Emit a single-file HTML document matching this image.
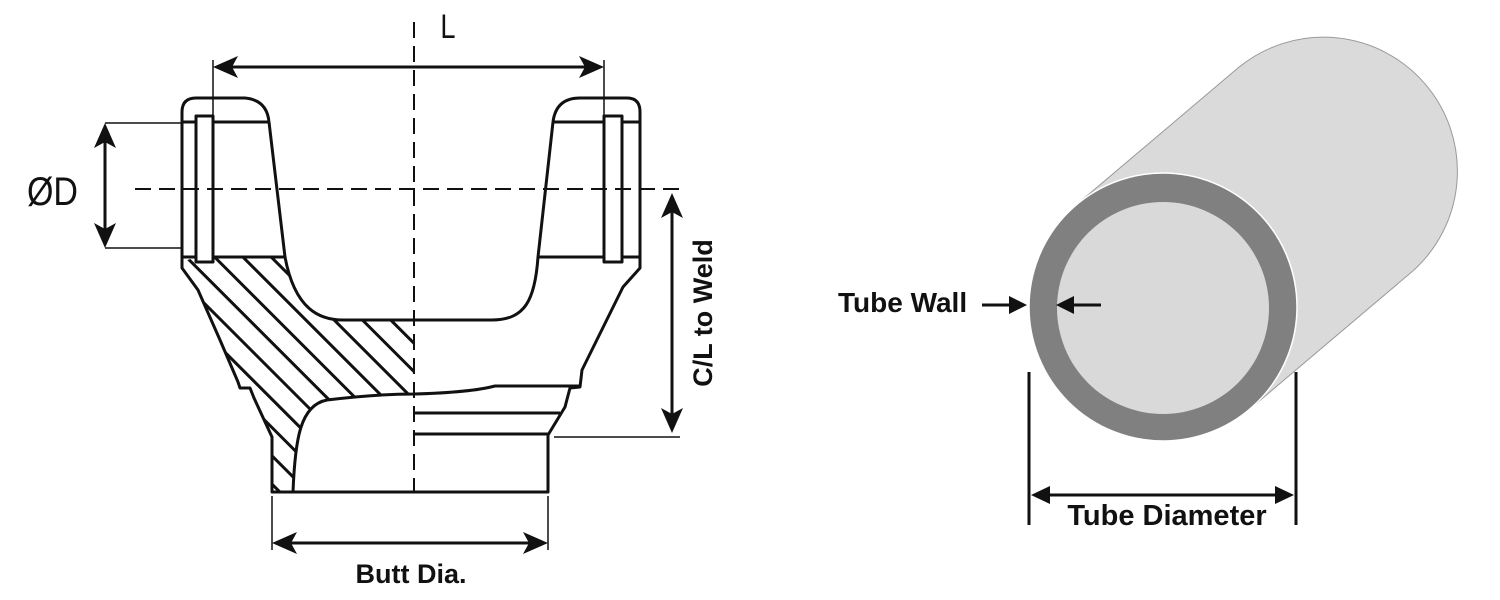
<!DOCTYPE html>
<html><head><meta charset="utf-8"><style>
html,body{margin:0;padding:0;background:#fff;}
svg{display:block;}
</style></head><body>
<svg width="1500" height="600" viewBox="0 0 1500 600" xmlns="http://www.w3.org/2000/svg">
<defs>
<pattern id="h" patternUnits="userSpaceOnUse" width="20" height="20" patternTransform="rotate(-45)">
<line x1="10" y1="-2" x2="10" y2="22" stroke="#111" stroke-width="3"/>
</pattern>
<clipPath id="hc"><path d="M182,262 L198,290 L220,340 L238,382 L240,388 L250,388 L254,398 L272,437 L272,492 L293,492 C295,440 300,405 327,400 C360,396 390,394 414,394 L414,320 L343,320 C320,320 295,310 285,257 L196,257 Z"/></clipPath>
</defs>
<rect x="170" y="250" width="250" height="250" fill="url(#h)" clip-path="url(#hc)"/>
<g fill="none" stroke="#111" stroke-width="3" stroke-linejoin="round">
<path d="M182,268 L182,112 Q182,98 196,98 L245,98 Q267,100 269,122 L285,257 C295,310 320,320 343,320 L492,320 C525,320 535,300 538,257 L553,122 Q556,98 580,98 L627,98 Q640,98 640,112 L640,268 L623,287 L582,370 L580,387 L570,388 L565,407 L548,435 L548,492 L272,492 L272,437 L254,398 L250,388 L240,388 L238,382 L220,340 L198,290 Z"/>
<path d="M293,492 C295,440 300,405 327,400 C360,396 390,394 414,394 C450,393 480,390 495,386 L580,386"/>
<line x1="414" y1="413" x2="560" y2="413"/>
<line x1="414" y1="434" x2="548" y2="434"/>
<rect x="196" y="116" width="17" height="146"/>
<rect x="604" y="116" width="18" height="146"/>
<path d="M182,122 L196,122 M213,122 L269,122 M182,257 L196,257 M213,257 L285,257"/>
<path d="M553,122 L604,122 M622,122 L640,122 M538,257 L604,257 M622,257 L640,257"/>
</g>
<g stroke="#111" stroke-width="2" stroke-dasharray="16,8" fill="none">
<line x1="414" y1="22" x2="414" y2="492"/>
<line x1="135" y1="189" x2="682" y2="189"/>
</g>
<g stroke="#111" stroke-width="1.5" fill="none">
<line x1="213" y1="60" x2="213" y2="262"/>
<line x1="604" y1="60" x2="604" y2="262"/>
<line x1="105" y1="123" x2="182" y2="123"/>
<line x1="105" y1="248" x2="182" y2="248"/>
<line x1="554" y1="437" x2="680" y2="437"/>
<line x1="272" y1="496" x2="272" y2="550"/>
<line x1="548" y1="496" x2="548" y2="550"/>
</g>
<g stroke="#111" stroke-width="3">
<line x1="225" y1="67" x2="592" y2="67"/>
<line x1="105" y1="135" x2="105" y2="236"/>
<line x1="672" y1="205" x2="672" y2="421"/>
<line x1="284" y1="543" x2="536" y2="543"/>
</g>
<g fill="#111">
<path d="M213,67 L238,56 L232,67 L238,78 Z"/>
<path d="M604,67 L579,56 L585,67 L579,78 Z"/>
<path d="M105,123 L94,148 L105,142 L116,148 Z"/>
<path d="M105,248 L94,223 L105,229 L116,223 Z"/>
<path d="M672,193 L661,218 L672,212 L683,218 Z"/>
<path d="M672,433 L661,408 L672,414 L683,408 Z"/>
<path d="M272,543 L297,532 L291,543 L297,554 Z"/>
<path d="M548,543 L523,532 L529,543 L523,554 Z"/>
</g>
<text x="448" y="38" font-family="Liberation Sans, sans-serif" font-size="34" text-anchor="middle" fill="#111" transform="scale(0.8,1) translate(112,0)">L</text>
<text x="27" y="205" font-family="Liberation Sans, sans-serif" font-size="40" fill="#111" transform="translate(4,0) scale(0.85,1)">ØD</text>
<text x="0" y="0" font-family="Liberation Sans, sans-serif" font-size="27" font-weight="bold" text-anchor="middle" fill="#111" transform="translate(712,313) rotate(-90)">C/L to Weld</text>
<text x="411" y="583" font-family="Liberation Sans, sans-serif" font-size="27" font-weight="bold" text-anchor="middle" fill="#111">Butt Dia.</text>
<g fill="#dadada" stroke="#9a9a9a" stroke-width="1">
<path d="M1076.4,204.8 L1239.4,66.8 A134,134 0 0 1 1412.6,271.2 L1249.6,409.2 Z"/>
</g>
<circle cx="1163" cy="307" r="134" fill="#808080" stroke="#fff" stroke-width="1.5"/>
<circle cx="1163" cy="308" r="106" fill="#d9d9d9"/>
<g stroke="#111" stroke-width="3">
<line x1="982" y1="305" x2="1012" y2="305"/>
<line x1="1070" y1="305" x2="1101" y2="305"/>
<line x1="1029" y1="372" x2="1029" y2="525"/>
<line x1="1296" y1="372" x2="1296" y2="525"/>
<line x1="1045" y1="495" x2="1280" y2="495"/>
</g>
<g fill="#111">
<path d="M1027,305 L1009,296 L1009,314 Z"/>
<path d="M1056,305 L1074,296 L1074,314 Z"/>
<path d="M1031,495 L1050,486 L1050,504 Z"/>
<path d="M1294,495 L1275,486 L1275,504 Z"/>
</g>
<text x="838" y="312" font-family="Liberation Sans, sans-serif" font-size="28" font-weight="bold" fill="#111">Tube Wall</text>
<text x="1167" y="525" font-family="Liberation Sans, sans-serif" font-size="29" font-weight="bold" text-anchor="middle" fill="#111">Tube Diameter</text>
</svg>
</body></html>
